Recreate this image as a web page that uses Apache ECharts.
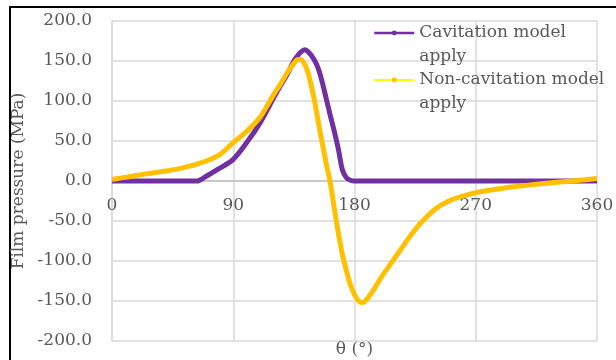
<!DOCTYPE html>
<html>
<head>
<meta charset="utf-8">
<script src="https://cdn.jsdelivr.net/npm/echarts@6/dist/echarts.min.js"></script>
<style>
  html, body { margin: 0; padding: 0; background: #fff; }
  #main { width: 616px; height: 360px; }
</style>
</head>
<body>
<div id="main"></div>
<script>
// crank angle (deg) and film pressure (MPa)
const thetaDeg = [0, 10, 20, 30, 40, 50, 60, 63, 70, 80, 90, 100, 110, 120, 125, 130, 135, 138, 140, 143,
  146, 150, 153, 156, 159, 162, 165, 168, 171, 174, 177, 180, 183, 186, 190, 195, 200, 205, 210, 215,
  220, 225, 230, 240, 250, 260, 270, 280, 290, 300, 315, 330, 345, 360];

const cavitation = [0, 0, 0, 0, 0, 0, 0, 0, 6, 16, 27, 48, 73, 104, 119, 133, 150, 157, 161, 164,
  161, 152, 141, 124, 103, 82, 62, 40, 14, 4, 1, 0, 0, 0, 0, 0, 0, 0, 0, 0,
  0, 0, 0, 0, 0, 0, 0, 0, 0, 0, 0, 0, 0, 0];

const nonCavitation = [2, 4.5, 7.5, 10, 12.5, 15.5, 19.5, 21, 25, 33, 48, 62, 80, 108, 121, 135, 147, 152, 152, 146,
  132, 103, 75, 48, 22, -2, -34, -65, -92, -112, -130, -142, -150, -152, -146, -134, -120, -108, -96, -84,
  -72, -61, -51, -35, -25, -19, -14.5, -11.5, -9, -7, -4, -1.5, 0.5, 3];

const seriesNames = ['Cavitation model apply', 'Non-cavitation model apply'];
// leading empty line keeps the icon level with the first text line
const legendLabels = ['\nCavitation model\napply', '\nNon-cavitation model\napply'];

const chart = echarts.init(document.getElementById('main'));

const font = 'DejaVu Serif';
const textGray = '#595959';
const gridGray = '#d9d9d9';

const option = {
  animation: false,
  grid: { left: 112, right: 19, top: 21, bottom: 19, outerBoundsMode: 'none' },
  graphic: [{
    type: 'rect',
    shape: { x: 10, y: 7, width: 700, height: 400 },
    style: { fill: 'none', stroke: '#000', lineWidth: 2 },
    silent: true
  }],
  legend: {
    orient: 'vertical',
    left: 373,
    top: -3,
    padding: 0,
    itemWidth: 40,
    itemHeight: 6,
    itemGap: -25,
    textStyle: { fontFamily: font, fontSize: 17, color: textGray, lineHeight: 24 },
    formatter: (name) => legendLabels[seriesNames.indexOf(name)],
    data: [
      { name: seriesNames[0], itemStyle: { color: '#7030A0' }, lineStyle: { color: '#7030A0', width: 2.5 } },
      { name: seriesNames[1], itemStyle: { color: '#FFC000' }, lineStyle: { color: '#FFFF00', width: 2 } }
    ]
  },
  xAxis: {
    type: 'value',
    min: 0,
    max: 360,
    interval: 90,
    name: 'θ (°)',
    nameLocation: 'middle',
    nameGap: 0,
    nameTextStyle: { fontFamily: font, fontSize: 17, color: textGray },
    axisLine: { onZero: true, lineStyle: { color: '#bfbfbf', width: 1.5 } },
    axisTick: { show: false },
    // labels sit just under the zero line, as in the original
    axisLabel: { fontFamily: font, fontSize: 17, color: textGray, margin: -144 },
    splitLine: { show: true, lineStyle: { color: gridGray, width: 1.5 } }
  },
  yAxis: {
    type: 'value',
    min: -200,
    max: 200,
    interval: 50,
    name: 'Film pressure (MPa)',
    nameLocation: 'middle',
    nameGap: 75,
    nameTextStyle: { fontFamily: font, fontSize: 17, color: textGray },
    axisLine: { show: true, lineStyle: { color: gridGray, width: 1.5 } },
    axisTick: { show: false },
    axisLabel: {
      fontFamily: font, fontSize: 17, color: textGray, margin: 20,
      formatter: (v) => Number(v).toFixed(1)
    },
    splitLine: { show: true, lineStyle: { color: gridGray, width: 1.5 } }
  },
  series: [
    {
      name: seriesNames[0],
      type: 'line',
      data: thetaDeg.map((t, i) => [t, cavitation[i]]),
      symbol: 'circle',
      showSymbol: false,
      smooth: 0.3,
      itemStyle: { color: '#7030A0' },
      lineStyle: { color: '#7030A0', width: 5 }
    },
    {
      name: seriesNames[1],
      type: 'line',
      data: thetaDeg.map((t, i) => [t, nonCavitation[i]]),
      symbol: 'circle',
      showSymbol: false,
      smooth: 0.3,
      itemStyle: { color: '#FFC000' },
      lineStyle: { color: '#FFC000', width: 5 }
    }
  ]
};

chart.setOption(option);
</script>
</body>
</html>
